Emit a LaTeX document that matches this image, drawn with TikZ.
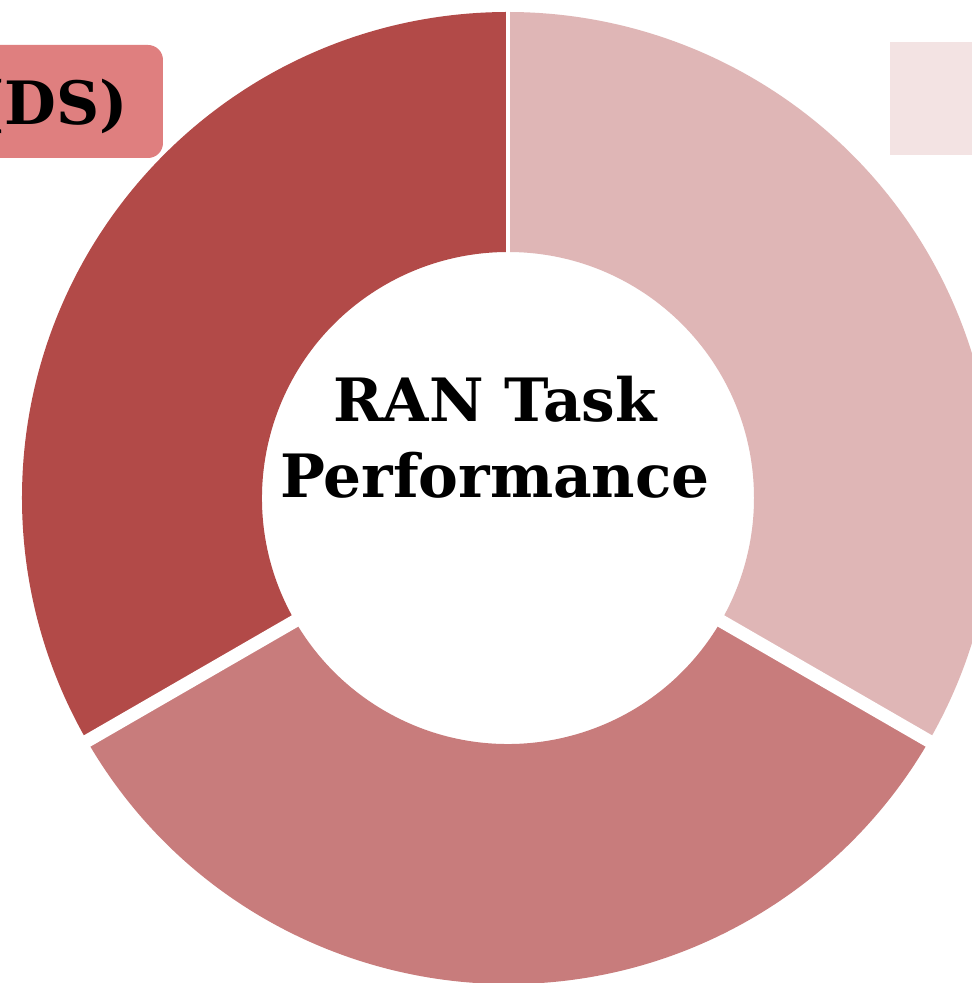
\documentclass[tikz,border=0pt]{standalone}
\usepackage{fontspec}
\newfontfamily\titlefont{DejaVu Serif}
\usepackage{tikz}
\definecolor{segdark}{RGB}{178,74,72}
\definecolor{segmid}{RGB}{200,124,124}
\definecolor{seglight}{RGB}{223,182,182}
\definecolor{tagred}{RGB}{223,127,127}
\definecolor{tagpale}{RGB}{243,227,227}
\tikzset{
	title/.style={inner sep=0pt,anchor=base,font=\titlefont\bfseries\fontsize{34}{40}\selectfont},
	tag/.style={inner sep=0pt,anchor=base east,font=\titlefont\bfseries\fontsize{34}{40}\selectfont},
	gap/.style={white,line width=#1}
}

\begin{document}
\begin{tikzpicture}[x=0.02cm,y=0.02cm]
						\clip (-508,-485) rectangle (464,498);
						\fill [white] (-508,-485) rectangle (464,498);

						\fill [segdark] (90:486) arc[start angle=90,end angle=210,radius=486] -- (210:246) arc[start angle=210,end angle=90,radius=246] -- cycle;
						\fill [segmid] (210:486) arc[start angle=210,end angle=330,radius=486] -- (330:246) arc[start angle=330,end angle=210,radius=246] -- cycle;
						\fill [seglight] (-30:486) arc[start angle=-30,end angle=90,radius=486] -- (90:246) arc[start angle=90,end angle=-30,radius=246] -- cycle;

						\draw [gap=0.09cm] (90:240) -- (90:492);
						\draw [gap=0.26cm] (210:240) -- (210:492);
						\draw [gap=0.26cm] (330:240) -- (330:492);

						\fill [tagred,rounded corners=0.3cm] (-560,340) rectangle (-345,453);
						\node [tag] (ds) at (-380,373) {(DS)};
						\fill [tagpale] (382,343) rectangle (500,456);

						\node [title] (ran) at (-13,76) {RAN Task};
						\node [title] (perf) at (-13,0) {Performance};
					\end{tikzpicture}
\end{document}
